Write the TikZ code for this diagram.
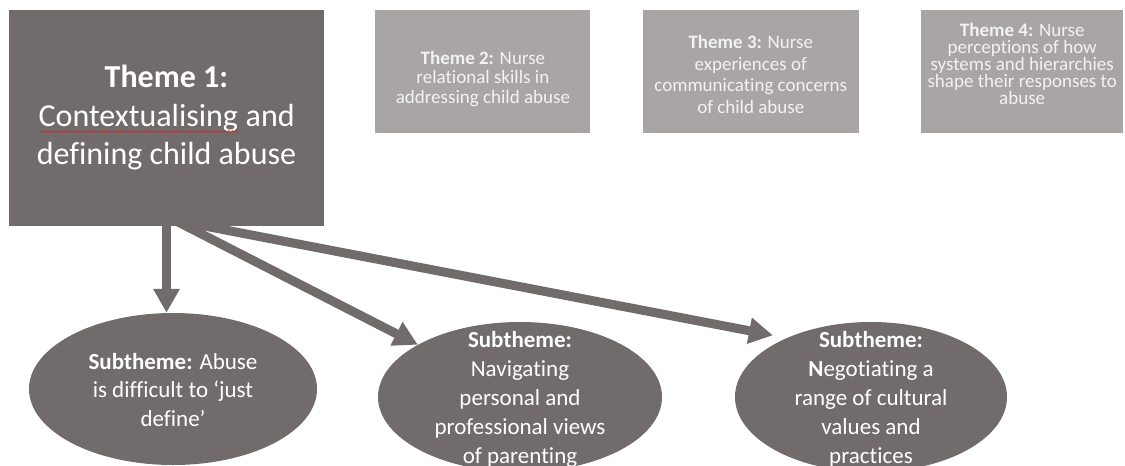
\documentclass[tikz,border=0pt]{standalone}
\usepackage{fontspec}
\setmainfont{Carlito}[Ligatures=NoCommon]
\usetikzlibrary{shapes.geometric,arrows.meta,positioning,decorations.pathmorphing}
\definecolor{themedark}{RGB}{113,107,107}
\definecolor{themelight}{RGB}{169,165,164}
\definecolor{textlight}{RGB}{243,242,242}
\definecolor{spellred}{RGB}{205,45,45}

% red wavy underline (spell-check mark); the inner node resets what it
% would otherwise take over from the box it sits in
\newcommand{\spellwave}[1]{\tikz[baseline=(w.base)]{\node[inner sep=0pt, outer sep=0pt,
        minimum width=0pt, minimum height=0pt, fill=none, draw=none, anchor=base] (w) at (0,0) {#1};
    \draw[spellred, line width=0.7pt, decorate, decoration={snake, amplitude=0.8pt, segment length=3.5pt}]
        ([yshift=-5pt]w.base west) -- ([yshift=-5pt]w.base east);}}

\begin{document}
\begin{tikzpicture}[
    x=1pt, y=-1pt,
    box/.style={rectangle, inner sep=0pt, align=center, text=white},
    mainbox/.style={box, fill=themedark, minimum width=315pt, minimum height=216pt, font=\fontsize{32}{38.5}\selectfont},
    theme/.style={box, fill=themelight, minimum height=123pt},
    themetext/.style={align=center, text=textlight, inner sep=0pt, font=\fontsize{19}{19.5}\selectfont},
    subtheme/.style={ellipse, fill=themedark, inner sep=0pt},
    subtext/.style={align=center, text=white, inner sep=0pt, font=\fontsize{23}{29}\selectfont},
    arrow/.style={-{Triangle[width=25pt, length=24pt]}, line width=9pt, draw=themedark}
]
    \useasboundingbox (0,0) rectangle (1125,466);
    \clip (0,0) rectangle (1125,466);

    % themes
    \node[mainbox] (theme1) at (166.5,118) {\textbf{Theme 1:}\\\spellwave{Contextualising} and\\defining child abuse};
    \node[theme, minimum width=215pt, right=51pt of theme1.north east, anchor=north west] (theme2) {};
    \node[theme, minimum width=216pt, right=52pt of theme2.north east, anchor=north west] (theme3) {};
    \node[theme, minimum width=202pt, right=62pt of theme3.north east, anchor=north west] (theme4) {};
    \node[themetext] (theme2text) at ([yshift=-7pt]theme2.center) {\textbf{Theme 2:} Nurse\\relational skills in\\addressing child abuse};
    \node[themetext, font=\fontsize{19}{21.5}\selectfont] (theme3text) at ([yshift=-3pt]theme3.center) {\textbf{Theme 3:} Nurse\\experiences of\\communicating concerns\\of child abuse};
    \node[themetext, font=\fontsize{19}{17}\selectfont] (theme4text) at ([yshift=8pt]theme4.center) {\textbf{Theme 4:} Nurse\\perceptions of how\\systems and hierarchies\\shape their responses to\\abuse};

    % subthemes of theme 1
    \node[subtheme, minimum width=288pt, minimum height=152pt] (sub1) at (173,389) {};
    \node[subtext, font=\fontsize{23}{28.5}\selectfont] (sub1text) at ([yshift=-1pt]sub1.center) {\textbf{Subtheme:} Abuse\\is difficult to ‘just\\define’};
    \node[subtheme, minimum width=284pt, minimum height=150pt] (sub2) at (520,397) {};
    \node[subtext] (sub2text) at ([yshift=-2pt]sub2.center) {\textbf{Subtheme:}\\Navigating\\personal and\\professional views\\of parenting};
    \node[subtheme, minimum width=272pt, minimum height=150pt] (sub3) at (871,397) {};
    \node[subtext] (sub3text) at ([yshift=-2pt]sub3.center) {\textbf{Subtheme:}\\\textbf{N}egotiating a\\range of cultural\\values and\\practices};

    % arrows start inside theme 1 (same fill, so the overlap does not show)
    \coordinate (fork) at ([xshift=8pt, yshift=6pt]theme1.south);
    \draw[arrow] ([yshift=5pt]theme1.south) -- (theme1.south |- sub1.north);
    \draw[arrow] (fork) -- (sub2);
    \draw[arrow, shorten >=14pt] (fork) -- (sub3.145);
\end{tikzpicture}
\end{document}
